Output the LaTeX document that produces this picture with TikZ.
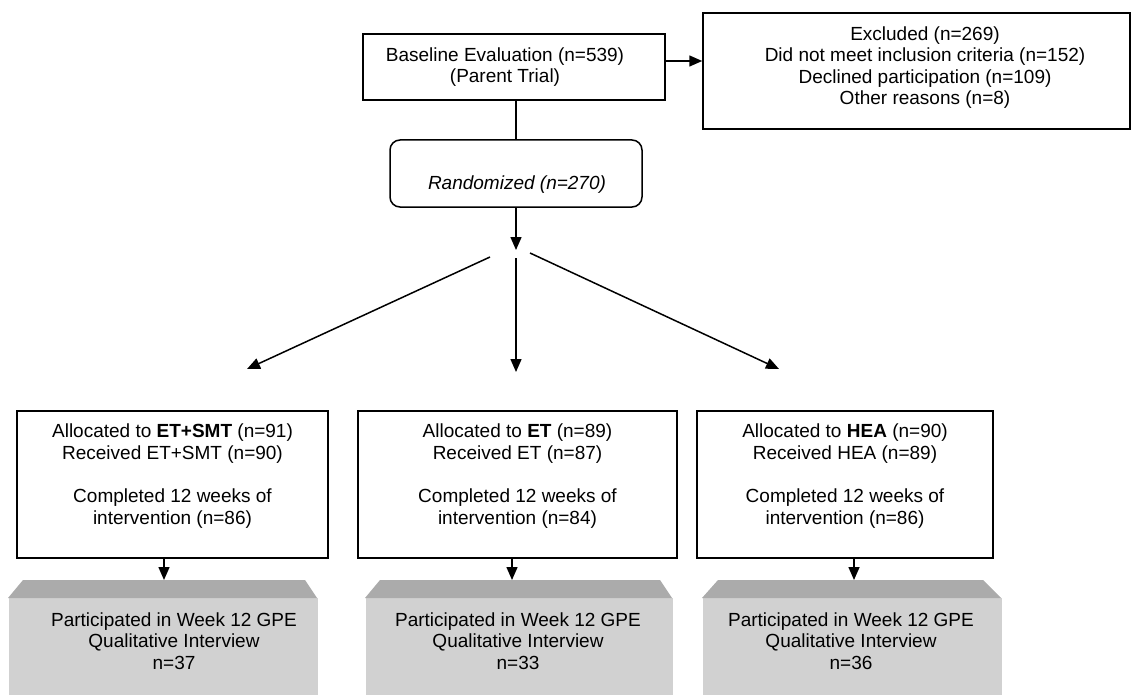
\documentclass[tikz,border=0pt]{standalone}
\usepackage{fontspec}
\setmainfont{Liberation Sans}
\usetikzlibrary{arrows.meta,calc}
\definecolor{graybody}{HTML}{D1D1D1}
\definecolor{graytop}{HTML}{ABABAB}
\begin{document}
\begin{tikzpicture}[x=1pt,y=-1pt,
  line width=1.5pt,
  box/.style={draw=black, rectangle, inner sep=0pt},
  txt/.style={align=center, inner sep=0pt, font=\fontsize{19}{21.6}\selectfont},
  arr/.style={-{Triangle[length=13pt,width=11pt]}},
  body/.style={fill=graybody, draw=none, rectangle, inner sep=0pt, anchor=north west},
  bevel/.style={fill=graytop, draw=none}]
\useasboundingbox (0,0) rectangle (1134,695);

% top boxes
\node[box, minimum width=302pt, minimum height=66pt] (base) at (514,67) {};
\node[txt] (basetxt) at (505,67) {Baseline Evaluation (n=539)\\(Parent Trial)};

\node[box, minimum width=427pt, minimum height=116pt] (excl) at (916.5,71) {};
\node[txt] (excltxt) at (925,67.5) {Excluded (n=269)\\Did not meet inclusion criteria (n=152)\\Declined participation (n=109)\\Other reasons (n=8)};

\coordinate (exy) at (703,61);
\draw[arr] (base.east |- exy) -- (excl.west |- exy);

\node[box, rounded corners=10pt, minimum width=252pt, minimum height=67pt] (rand) at (516,173.5) {};
\node[txt, font=\fontsize{19}{21.6}\selectfont\itshape] (randtxt) at (517,185) {Randomized (n=270)};

\draw (base.south -| rand.north) -- (rand.north);

\coordinate (split) at (516,250);
\draw[arr] (rand.south) -- (split);

% split arrows
\coordinate (L0) at (490,257);
\coordinate (C0) at (516,258);
\coordinate (R0) at (530,253);
\coordinate (tL) at (247,369);
\coordinate (tC) at (516,372);
\coordinate (tR) at (779,369);
\draw[arr] (L0) -- (tL);
\draw[arr] (C0) -- (tC);
\draw[arr] (R0) -- (tR);

% allocation boxes
\node[box, minimum width=311pt, minimum height=147pt] (a1) at (172.5,484.5) {};
\node[box, minimum width=319pt, minimum height=147pt] (a2) at (517.5,484.5) {};
\node[box, minimum width=296pt, minimum height=147pt] (a3) at (845,484.5) {};

\node[txt] (a1txt) at (172.5,476) {Allocated to \textbf{ET+SMT} (n=91)\\Received ET+SMT (n=90)\\[21.6pt]Completed 12 weeks of\\intervention (n=86)};
\node[txt] (a2txt) at (517.5,476) {Allocated to \textbf{ET} (n=89)\\Received ET (n=87)\\[21.6pt]Completed 12 weeks of\\intervention (n=84)};
\node[txt] (a3txt) at (845,476) {Allocated to \textbf{HEA} (n=90)\\Received HEA (n=89)\\[21.6pt]Completed 12 weeks of\\intervention (n=86)};

% grey result shapes
\node[body, minimum width=309pt, minimum height=98pt] (g1) at (8,597.5) {};
\fill[bevel] (23,580) -- (305,580) -- (317,598) -- (8,598) -- cycle;
\node[body, minimum width=307pt, minimum height=98pt] (g2) at (365,597.5) {};
\fill[bevel] (380,580) -- (660,580) -- (672,598) -- (365,598) -- cycle;
\node[body, minimum width=299pt, minimum height=98pt] (g3) at (702,597.5) {};
\fill[bevel] (718,580) -- (983,580) -- (1001,598) -- (702,598) -- cycle;

\node[txt] (g1txt) at (174,641) {Participated in Week 12 GPE\\Qualitative Interview\\n=37};
\node[txt] (g2txt) at (518,641) {Participated in Week 12 GPE\\Qualitative Interview\\n=33};
\node[txt] (g3txt) at (851,641) {Participated in Week 12 GPE\\Qualitative Interview\\n=36};

\coordinate (g1t) at (164,580);
\coordinate (g2t) at (512,580);
\coordinate (g3t) at (854,580);
\draw[arr] (a1.south -| g1t) -- (g1t);
\draw[arr] (a2.south -| g2t) -- (g2t);
\draw[arr] (a3.south -| g3t) -- (g3t);
\end{tikzpicture}
\end{document}
